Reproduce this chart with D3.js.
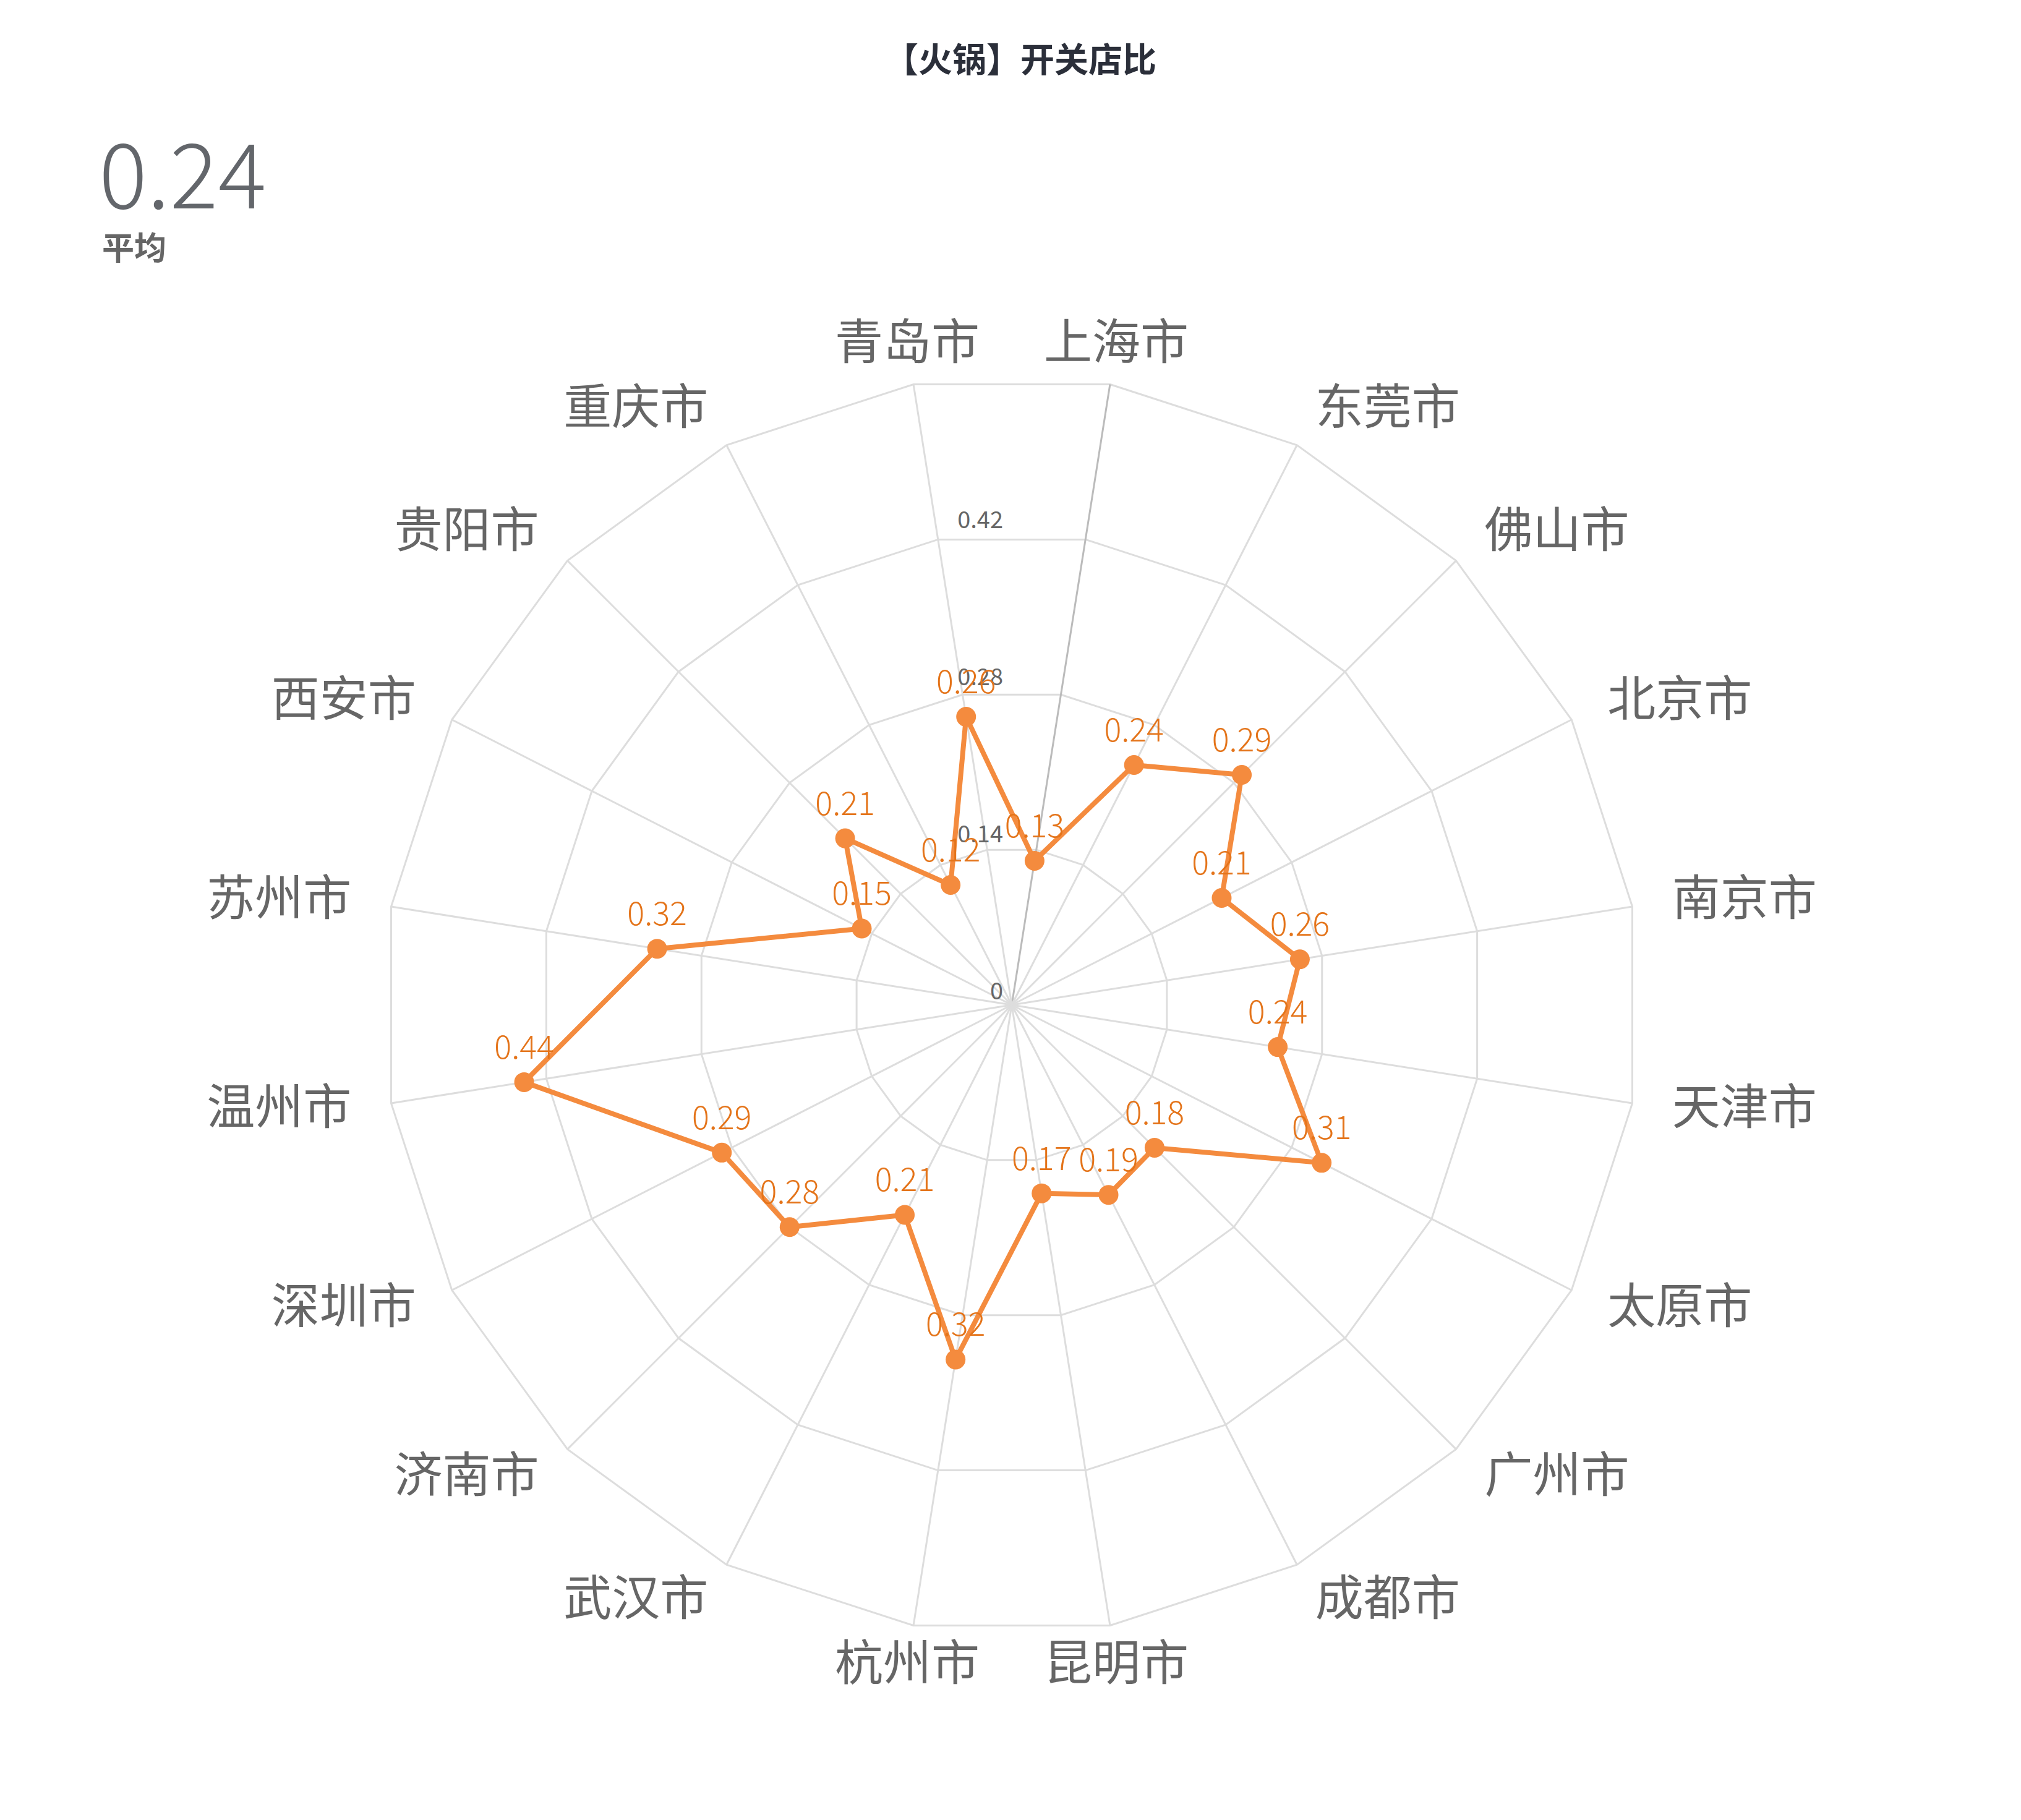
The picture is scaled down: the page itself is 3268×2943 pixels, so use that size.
<!DOCTYPE html>
<html>
<head>
<meta charset="utf-8">
<script src="https://d3js.org/d3.v7.min.js"></script>
<style>
  body { margin: 0; background: #fff; }
  svg text { font-family: "Noto Sans CJK SC", "Noto Sans", sans-serif; }
  .grid { fill: none; stroke: #dddddd; stroke-width: 3; }
  .spoke { stroke: #dddddd; stroke-width: 3; }
  .spoke.first { stroke: #bbbbbb; }
  .cat { fill: #666666; font-size: 78px; }
  .tick { fill: #666666; font-size: 38px; }
  .val { fill: #e4741a; font-size: 52px; font-weight: 300; }
</style>
</head>
<body>
<script>
// cities clockwise, starting right of 12 o'clock
var cities = ['上海市', '东莞市', '佛山市', '北京市', '南京市', '天津市', '太原市', '广州市', '成都市', '昆明市',
              '杭州市', '武汉市', '济南市', '深圳市', '温州市', '苏州市', '西安市', '贵阳市', '重庆市', '青岛市'];
var ratios = [0.13, 0.24, 0.29, 0.21, 0.26, 0.24, 0.31, 0.18, 0.19, 0.17,
              0.32, 0.21, 0.28, 0.29, 0.44, 0.32, 0.15, 0.21, 0.12, 0.26];
var ringValues = [0.14, 0.28, 0.42, 0.56];
var tickValues = [0, 0.14, 0.28, 0.42];

var title = '【火锅】开关店比';
var avgLabel = '平均';

// canvas
var W = 3268, H = 2943;
var cx = 1636, cy = 1625, R = 1016;

var svg = d3.select('body').append('svg')
  .attr('width', W)
  .attr('height', H);

// scales
var angle = d3.scaleBand().domain(cities).range([0, 2 * Math.PI]);
var ang = function(c) { return angle(c) + angle.bandwidth() / 2; };
var r = d3.scaleLinear().domain([0, 0.56]).range([0, R]);

var g = svg.append('g').attr('transform', `translate(${cx},${cy})`);

// rings
var ring = d3.lineRadial().curve(d3.curveLinearClosed)
  .angle(function(c) { return ang(c); });
g.selectAll('.grid')
  .data(ringValues)
  .enter()
  .append('path')
  .attr('class', 'grid')
  .attr('d', function(v) { return ring.radius(r(v))(cities); });

// spokes
g.selectAll('.spoke')
  .data(cities)
  .enter()
  .append('line')
  .attr('class', function(c, i) { return i === 0 ? 'spoke first' : 'spoke'; })
  .attr('x1', 0).attr('y1', 0)
  .attr('x2', function(c) { return r(0.56) * Math.sin(ang(c)); })
  .attr('y2', function(c) { return -r(0.56) * Math.cos(ang(c)); });

// tick labels
g.selectAll('.tick')
  .data(tickValues)
  .enter()
  .append('text')
  .attr('class', 'tick')
  .attr('x', -14)
  .attr('y', function(v) { return -r(v) - 9; })
  .attr('text-anchor', 'end')
  .text(function(v) { return d3.format('~g')(v); });

// city names
var labelR = R + 65;
g.selectAll('.cat')
  .data(cities)
  .enter()
  .append('text')
  .attr('class', 'cat')
  .attr('x', function(c) { return labelR * Math.sin(ang(c)); })
  .attr('y', function(c) { return -labelR * Math.cos(ang(c)) - 10; })
  .attr('dominant-baseline', 'central')
  .attr('text-anchor', function(c) {
    var s = Math.sin(ang(c));
    return Math.abs(s) < 0.2 ? 'middle' : (s > 0 ? 'start' : 'end');
  })
  .text(function(c) { return c; });

// series
var pts = cities.map(function(c, i) { return { city: c, v: ratios[i] }; });
var line = d3.lineRadial().curve(d3.curveLinearClosed)
  .angle(function(d) { return ang(d.city); })
  .radius(function(d) { return r(d.v); });

g.append('path')
  .attr('d', line(pts))
  .attr('fill', 'none')
  .attr('stroke', '#f48b3e')
  .attr('stroke-width', 8)
  .attr('stroke-linejoin', 'round');

var px = function(d) { return r(d.v) * Math.sin(ang(d.city)); };
var py = function(d) { return -r(d.v) * Math.cos(ang(d.city)); };

g.selectAll('.dot')
  .data(pts)
  .enter()
  .append('circle')
  .attr('class', 'dot')
  .attr('cx', px)
  .attr('cy', py)
  .attr('r', 16)
  .attr('fill', '#f48b3e');

g.selectAll('.val')
  .data(pts)
  .enter()
  .append('text')
  .attr('class', 'val')
  .attr('x', px)
  .attr('y', function(d) { return py(d) - 38; })
  .attr('text-anchor', 'middle')
  .text(function(d) { return d.v; });

// title
svg.append('text')
  .attr('x', 1650)
  .attr('y', 116)
  .attr('text-anchor', 'middle')
  .attr('font-size', 55)
  .attr('font-weight', 700)
  .attr('fill', '#2b2f3a')
  .text(title);

// average block
svg.append('text')
  .attr('x', 160)
  .attr('y', 337)
  .attr('font-size', 146)
  .attr('font-weight', 300)
  .attr('fill', '#63666b')
  .text(d3.format('.2f')(d3.mean(ratios)));

svg.append('text')
  .attr('x', 165)
  .attr('y', 420)
  .attr('font-size', 52)
  .attr('font-weight', 700)
  .attr('fill', '#666666')
  .text(avgLabel);
</script>
</body>
</html>
